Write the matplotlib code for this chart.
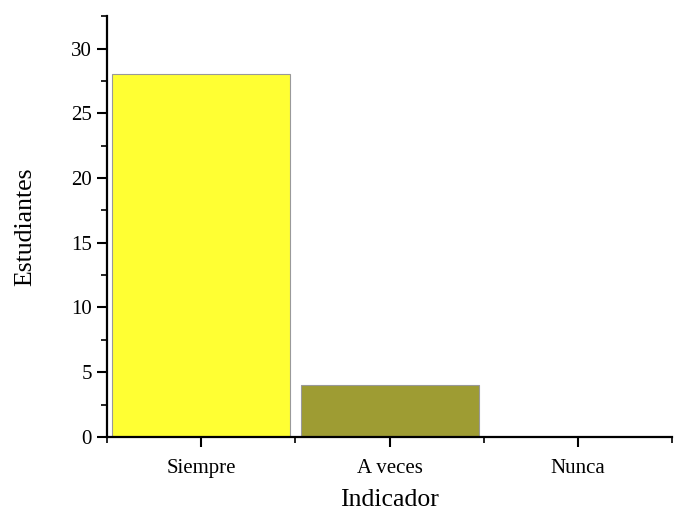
import numpy as np
import matplotlib.pyplot as plt
from matplotlib.ticker import MultipleLocator, FixedLocator

categorias = ['Siempre', 'A veces', 'Nunca']
estudiantes = [28, 4, 0]
colores = ['#FFFF33', '#9E9C33', '#9E9C33']

plt.rcParams['font.family'] = ['Liberation Serif']

fig = plt.figure(figsize=(6.77, 5.22), dpi=100)
ax = fig.add_axes([0.158, 0.163, 0.835, 0.806])

x = np.arange(len(categorias))
ax.bar(x, estudiantes, width=0.945, color=colores, edgecolor='#999999', linewidth=0.8)

ax.set_xlim(-0.5, 2.5)
ax.set_ylim(0, 32.5)
ax.set_xticks(x)
ax.set_xticklabels(categorias)
ax.xaxis.set_minor_locator(FixedLocator([-0.5, 0.5, 1.5, 2.5]))
ax.yaxis.set_major_locator(MultipleLocator(5))
ax.yaxis.set_minor_locator(MultipleLocator(2.5))

for s in ['top', 'right']:
    ax.spines[s].set_visible(False)
for s in ['left', 'bottom']:
    ax.spines[s].set_linewidth(1.6)

ax.tick_params(which='major', direction='out', length=7, width=1.5, labelsize=15, pad=4)
ax.tick_params(which='minor', direction='out', length=4, width=1.2)
ax.tick_params(axis='x', which='major', pad=9)

ax.set_xlabel('Indicador', fontsize=18.5, labelpad=8)
ax.set_ylabel('Estudiantes', fontsize=18.5, labelpad=25)

fig.savefig('out.png', dpi=100)
